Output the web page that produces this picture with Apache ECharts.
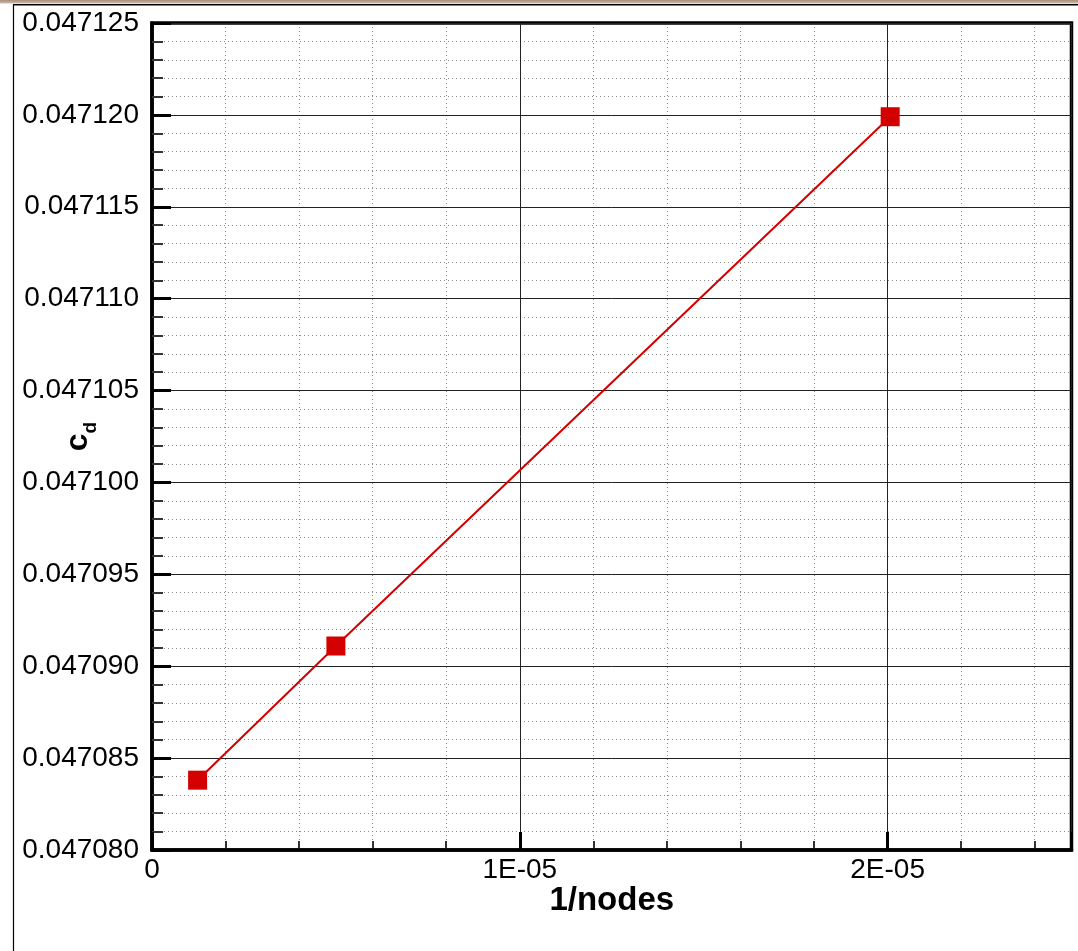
<!DOCTYPE html>
<html>
<head>
<meta charset="utf-8">
<title>Grid convergence of drag coefficient</title>
<script src="https://cdn.jsdelivr.net/npm/echarts@6/dist/echarts.min.js"></script>
<style>
  html, body { margin: 0; padding: 0; background: #ffffff; }
  #chart { width: 1078px; height: 951px; }
</style>
</head>
<body>
<div id="chart"></div>
<script>
// Inverse node count of each mesh and the drag coefficient computed on it
const inverseNodes = [1.24e-6, 5.0e-6, 2.007e-5];
const cdValues = [0.0470838, 0.0470911, 0.0471199];

// Axis ranges and tick spacing
const xRange = [0, 2.5e-5];
const xMajorStep = 1e-5;
const xMinorStep = 2e-6;
const yRange = [0.047080, 0.047125];
const yMajorStep = 0.000005;

const FONT = '"Liberation Sans", Arial, Helvetica, sans-serif';

function sciLabel(v) {
  if (Math.abs(v) < 1e-12) return '0';
  const k = v / xMajorStep;
  if (Math.abs(k - Math.round(k)) > 1e-6) return '';
  const exp = Math.floor(Math.log10(Math.abs(v)) + 1e-9);
  const mant = Math.round(v / Math.pow(10, exp));
  const sign = exp < 0 ? '-' : '+';
  const e = String(Math.abs(exp)).padStart(2, '0');
  return mant + 'E' + sign + e;
}

const chart = echarts.init(document.getElementById('chart'), null, { renderer: 'canvas' });

chart.setOption({
  animation: false,
  backgroundColor: '#ffffff',
  graphic: [
    {
      type: 'rect', silent: true, z: 0,
      shape: { x: 0, y: 0, width: 1078, height: 3.5 },
      style: {
        fill: new echarts.graphic.LinearGradient(0, 0, 0, 1, [
          { offset: 0, color: '#a88f7a' },
          { offset: 1, color: '#cdbcab' }
        ])
      }
    },
    {
      type: 'line', silent: true,
      shape: { x1: 13, y1: 4.75, x2: 1078, y2: 4.75 },
      style: { stroke: '#000000', lineWidth: 1.5 }
    },
    {
      type: 'line', silent: true,
      shape: { x1: 13.5, y1: 4, x2: 13.5, y2: 951 },
      style: { stroke: '#000000', lineWidth: 1.2 }
    }
  ],
  grid: {
    left: 152, right: 6.5, top: 23, bottom: 101,
    containLabel: false,
    outerBoundsMode: 'none',
    show: true,
    borderColor: '#000000',
    borderWidth: 3.5,
    backgroundColor: 'transparent'
  },
  xAxis: [
    {
      // major ticks, labels and solid grid lines
      type: 'value',
      position: 'bottom',
      min: xRange[0], max: xRange[1], interval: xMajorStep,
      z: 3,
      axisLine: { show: true, onZero: false, lineStyle: { color: '#000000', width: 3.5 } },
      axisTick: { show: true, inside: true, length: 18, lineStyle: { color: '#000000', width: 3 } },
      splitLine: { show: true, lineStyle: { color: '#222222', width: 1, type: 'solid' } },
      axisLabel: {
        show: true, margin: 6, color: '#000000',
        fontFamily: FONT, fontSize: 28,
        formatter: sciLabel
      },
      name: '1/nodes',
      nameLocation: 'middle',
      nameGap: 34,
      nameMoveOverlap: false,
      nameTextStyle: { color: '#000000', fontFamily: FONT, fontSize: 33, fontWeight: 'bold' }
    },
    {
      // minor ticks and dotted grid lines
      type: 'value',
      position: 'bottom',
      min: xRange[0], max: xRange[1], interval: xMinorStep,
      z: 1,
      axisLine: { show: false },
      axisTick: { show: true, inside: true, length: 9, lineStyle: { color: '#333333', width: 2 } },
      axisLabel: { show: false },
      splitLine: { show: true, lineStyle: { color: '#888888', width: 1, type: [1, 3] } }
    }
  ],
  yAxis: [
    {
      type: 'value',
      position: 'left',
      min: yRange[0], max: yRange[1], interval: yMajorStep,
      z: 3,
      axisLine: { show: true, onZero: false, lineStyle: { color: '#000000', width: 3.5 } },
      axisTick: { show: true, inside: true, length: 19, lineStyle: { color: '#000000', width: 3 } },
      minorTick: { show: true, splitNumber: 5, length: 11, lineStyle: { color: '#333333', width: 2 } },
      splitLine: { show: true, lineStyle: { color: '#222222', width: 1, type: 'solid' } },
      minorSplitLine: { show: true, lineStyle: { color: '#888888', width: 1, type: [1, 3] } },
      axisLabel: {
        show: true, margin: 13, color: '#000000',
        fontFamily: FONT, fontSize: 28,
        formatter: function (v) { return v.toFixed(6); }
      },
      name: '{c|c}{d|d}',
      nameLocation: 'middle',
      nameGap: 52,
      nameMoveOverlap: false,
      nameTextStyle: {
        color: '#000000',
        rich: {
          c: { fontFamily: FONT, fontSize: 32, fontWeight: 'bold', lineHeight: 44, color: '#000000' },
          d: { fontFamily: FONT, fontSize: 19, fontWeight: 'bold', lineHeight: 19, verticalAlign: 'bottom', color: '#000000' }
        }
      }
    }
  ],
  series: [
    {
      type: 'line',
      xAxisIndex: 0,
      yAxisIndex: 0,
      data: inverseNodes.map(function (x, i) { return [x, cdValues[i]]; }),
      symbol: 'rect',
      symbolSize: 19,
      z: 10,
      itemStyle: { color: '#d40000' },
      lineStyle: { color: '#d40000', width: 2 }
    }
  ]
});
</script>
</body>
</html>
